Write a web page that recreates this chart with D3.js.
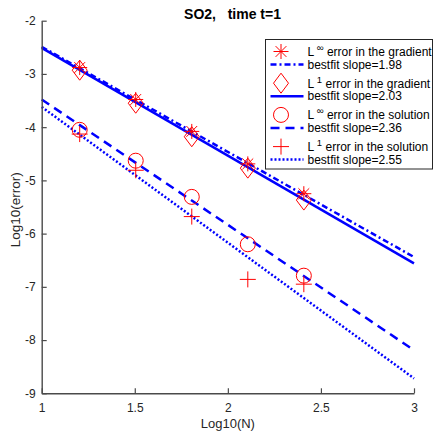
<!DOCTYPE html>
<html><head><meta charset="utf-8">
<script src="https://cdn.jsdelivr.net/npm/d3@7"></script>
<style>body{margin:0;background:#fff}svg{display:block}text{font-family:"Liberation Sans",Arial,Helvetica,sans-serif;white-space:pre}</style>
</head><body>
<script>
// ---- data ----
const logN = [1.2041, 1.5051, 1.8062, 2.1072, 2.4082];
const linfGrad = [-2.88, -3.48, -4.08, -4.69, -5.25];
const l1Grad = [-2.93, -3.55, -4.18, -4.77, -5.37];
const linfSol = [-4.05, -4.63, -5.31, -6.20, -6.79];
const l1Sol = [-4.13, -4.81, -5.68, -6.86, -6.95];
const fitX = [1, 3];
const fitLinfGrad = [-2.49, -6.44];
const fitL1Grad = [-2.51, -6.56];
const fitLinfSol = [-3.48, -8.19];
const fitL1Sol = [-3.62, -8.72];
const slopes = ["1.98", "2.03", "2.36", "2.55"];
const xTicks = [1, 1.5, 2, 2.5, 3];
const yTicks = [-2, -3, -4, -5, -6, -7, -8, -9];
const titleText = "SO2,   time t=1";

const W = 433, H = 438;
const svg = d3.select("body").append("svg").attr("width", W).attr("height", H);
const x = d3.scaleLinear().domain([1, 3]).range([41.7, 414]);
const y = d3.scaleLinear().domain([-9, -2]).range([393.3, 20.7]);

const blue = "#0000ff", red = "#ff0000";
const styles = [
  {dash: "6,3,2,3"},
  {dash: null},
  {dash: "9,6"},
  {dash: "2,2"}
];
const fits = [fitLinfGrad, fitL1Grad, fitLinfSol, fitL1Sol];
const line = d3.line().x(d => x(d[0])).y(d => y(d[1]));

// fit lines
fits.forEach((f, i) => {
  svg.append("path").attr("d", line(fitX.map((v, j) => [v, f[j]])))
    .attr("fill", "none").attr("stroke", blue).attr("stroke-width", 2.5)
    .attr("stroke-dasharray", styles[i].dash);
});

// marker drawing
function marker(g, type, cx, cy) {
  const s = g.append("g").attr("transform", `translate(${cx},${cy})`)
    .attr("fill", "none").attr("stroke", red).attr("stroke-width", 1);
  if (type === "star") {
    const r = 7.5, d = r * 0.72;
    s.append("path").attr("d", `M${-r},0H${r}M0,${-r}V${r}M${-d},${-d}L${d},${d}M${-d},${d}L${d},${-d}`);
  } else if (type === "diamond") {
    s.append("path").attr("d", "M0,-10L7.5,0L0,10L-7.5,0Z");
  } else if (type === "circle") {
    s.append("circle").attr("r", 7.5);
  } else {
    s.append("path").attr("d", "M-8,0H8M0,-8V8");
  }
}
const series = [[linfGrad, "star"], [l1Grad, "diamond"], [linfSol, "circle"], [l1Sol, "plus"]];
series.forEach(([vals, type]) => {
  vals.forEach((v, i) => marker(svg, type, x(logN[i]), y(v)));
});

// axes
const axCol = "#4a4a4a";
const xAxis = svg.append("g").attr("transform", `translate(0,${y(-9)})`)
  .call(d3.axisBottom(x).tickValues(xTicks).tickFormat(d3.format("")).tickSizeInner(-5).tickSizeOuter(0).tickPadding(10));
const yAxis = svg.append("g").attr("transform", `translate(${x(1)},0)`)
  .call(d3.axisLeft(y).tickValues(yTicks).tickFormat(d3.format("")).tickSizeInner(-5).tickSizeOuter(0).tickPadding(6));
[xAxis, yAxis].forEach(a => {
  a.select(".domain").attr("stroke", axCol).attr("stroke-width", 1.4);
  a.selectAll(".tick line").attr("stroke", axCol).attr("stroke-width", 1.2);
  a.selectAll(".tick text").attr("fill", "#262626").attr("font-size", 12)
    .attr("font-family", '"Liberation Sans",Arial,sans-serif')
    .text(d => String(d));
});

// labels
svg.append("text").attr("x", x(2)).attr("y", 428).attr("text-anchor", "middle")
  .attr("font-size", 13).attr("fill", "#262626").text("Log10(N)");
svg.append("text").attr("transform", `translate(15,${y(-5.55)}) rotate(-90)`)
  .attr("text-anchor", "middle").attr("dominant-baseline", "central")
  .attr("font-size", 13.5).attr("fill", "#262626").text("Log10(error)");
svg.append("text").attr("x", 232.5).attr("y", 19).attr("text-anchor", "middle")
  .attr("font-size", 14).attr("font-weight", "bold").attr("fill", "#000")
  .text(titleText);

// legend
const lg = svg.append("g");
lg.append("rect").attr("x", 265.5).attr("y", 39.5).attr("width", 167).attr("height", 129.5)
  .attr("fill", "#fff").attr("stroke", "#262626").attr("stroke-width", 1);
const entries = [
  ["star", "L", "∞", " error in the gradient"],
  ["diamond", "L", "1", " error in the gradient"],
  ["circle", "L", "∞", " error in the solution"],
  ["plus", "L", "1", " error in the solution"]
];
entries.forEach((e, i) => {
  const my = 51.5 + i * 31.7, ly = 64.5 + i * 31.7;
  marker(lg, e[0], 281, my);
  const t = lg.append("text").attr("x", 307.5).attr("y", my + 4.5).attr("font-size", 12).attr("fill", "#000");
  t.append("tspan").text(e[1]);
  t.append("tspan").attr("dy", -5).attr("font-size", 9.5).text(" " + e[2]);
  t.append("tspan").attr("dy", 5).text(e[3]);
  lg.append("line").attr("x1", 270.5).attr("x2", 303.5).attr("y1", ly).attr("y2", ly)
    .attr("stroke", blue).attr("stroke-width", 2.5).attr("stroke-dasharray", styles[i].dash);
  lg.append("text").attr("x", 307.5).attr("y", ly + 4.2).attr("font-size", 12).attr("fill", "#000")
    .text("bestfit slope=" + slopes[i]);
});
</script>
</body></html>
